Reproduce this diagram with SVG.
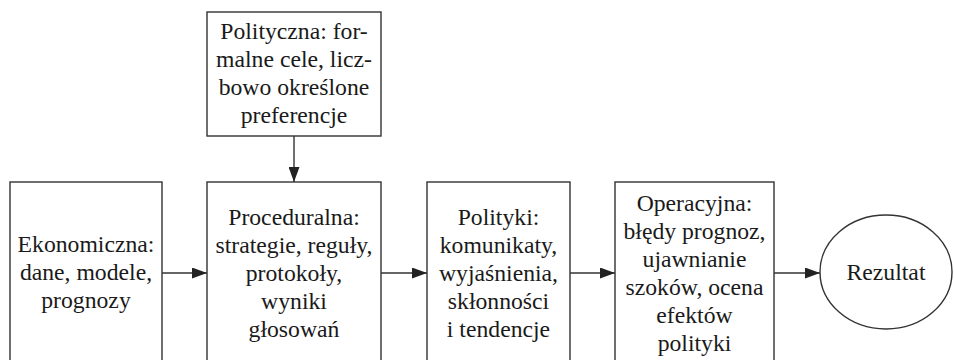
<svg xmlns="http://www.w3.org/2000/svg" width="954" height="360" viewBox="0 0 954 360">
<style>
.box{fill:#fff;stroke:#333;stroke-width:1.4}
.t{font-size:23.7px;fill:#1a1a1a;text-anchor:middle}
.c{stroke:#333;stroke-width:1.4;fill:none;marker-end:url(#ah)}
</style>
<defs>
<marker id="ah" markerWidth="15" markerHeight="11" refX="15" refY="5.5" orient="auto" markerUnits="userSpaceOnUse">
<path d="M0,0 L15,5.5 L0,11 Z" fill="#222"/>
</marker>
</defs>
<rect width="954" height="360" fill="#fff"/>
<g id="connectors">
<line class="c" x1="294" y1="136" x2="294" y2="182"/>
<line class="c" x1="162" y1="273" x2="207" y2="273"/>
<line class="c" x1="381" y1="273" x2="427" y2="273"/>
<line class="c" x1="570" y1="273" x2="615" y2="273"/>
<line class="c" x1="774" y1="273" x2="820" y2="273"/>
</g>
<g font-family="Liberation Serif, Times New Roman, serif">
<g id="polityczna">
<rect class="box" x="207" y="12" width="174" height="124"/>
<text class="t"><tspan x="294" y="39">Polityczna: for-</tspan><tspan x="294" y="67">malne cele, licz-</tspan><tspan x="294" y="95">bowo określone</tspan><tspan x="294" y="123">preferencje</tspan></text>
</g>
<g id="ekonomiczna">
<rect class="box" x="10" y="182" width="152" height="184"/>
<text class="t"><tspan x="86" y="252">Ekonomiczna:</tspan><tspan x="86" y="280">dane, modele,</tspan><tspan x="86" y="308">prognozy</tspan></text>
</g>
<g id="proceduralna">
<rect class="box" x="207" y="182" width="174" height="184"/>
<text class="t"><tspan x="294" y="225">Proceduralna:</tspan><tspan x="294" y="253">strategie, reguły,</tspan><tspan x="294" y="281">protokoły,</tspan><tspan x="294" y="309">wyniki</tspan><tspan x="294" y="337">głosowań</tspan></text>
</g>
<g id="polityki">
<rect class="box" x="427" y="182" width="143" height="184"/>
<text class="t"><tspan x="498.5" y="225">Polityki:</tspan><tspan x="498.5" y="253">komunikaty,</tspan><tspan x="498.5" y="281">wyjaśnienia,</tspan><tspan x="498.5" y="309">skłonności</tspan><tspan x="498.5" y="337">i tendencje</tspan></text>
</g>
<g id="operacyjna">
<rect class="box" x="615" y="182" width="159" height="184"/>
<text class="t"><tspan x="694.5" y="211">Operacyjna:</tspan><tspan x="694.5" y="239">błędy prognoz,</tspan><tspan x="694.5" y="267">ujawnianie</tspan><tspan x="694.5" y="295">szoków, ocena</tspan><tspan x="694.5" y="323">efektów</tspan><tspan x="694.5" y="351">polityki</tspan></text>
</g>
<g id="rezultat">
<ellipse class="box" cx="886" cy="272" rx="66" ry="57"/>
<text class="t" x="886" y="280">Rezultat</text>
</g>
</g>
</svg>
